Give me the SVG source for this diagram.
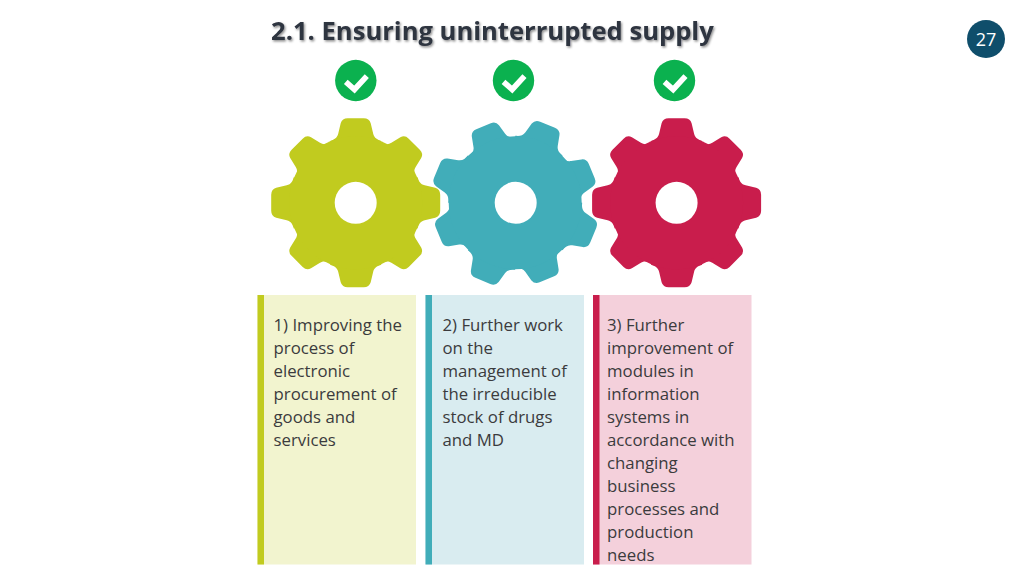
<svg xmlns="http://www.w3.org/2000/svg" width="1024" height="576" viewBox="0 0 1024 576">
<style>
.t{font-family:"Open Sans","Liberation Sans",sans-serif;font-size:16.8px;fill:#3b3b3d}
.title{font-family:"Open Sans","Liberation Sans",sans-serif;font-size:25.6px;font-weight:700;fill:#2e3440}
.ck{fill:#0BB14F}
.tick{fill:none;stroke:#fff;stroke-width:5.6}
.hole{fill:#fff}
</style>
<defs>
<filter id="sh" x="-5%" y="-30%" width="110%" height="170%"><feDropShadow dx="1.2" dy="1.5" stdDeviation="0.9" flood-color="#000" flood-opacity="0.45"/></filter>
<path id="tooth" d="M-25.6,-61.9C-22,-63 -18.500,-64.500 -17.500,-69L-15,-79.500Q-13.500,-84.500 -8,-84.500L8,-84.500Q13.500,-84.500 15,-79.500L17.500,-69C18.500,-64.500 22,-63 25.600,-61.900L0,0Z"/>
<g id="gear">
<use href="#tooth"/><use href="#tooth" transform="rotate(45) scale(.98)"/><use href="#tooth" transform="rotate(90)"/><use href="#tooth" transform="rotate(135) scale(.98)"/><use href="#tooth" transform="rotate(180)"/><use href="#tooth" transform="rotate(225) scale(.98)"/><use href="#tooth" transform="rotate(270)"/><use href="#tooth" transform="rotate(315) scale(.98)"/>
<circle r="66.500"/>
</g>
<g id="check"><circle class="ck" r="20.7"/><path class="tick" d="M-10,1.3L-1.3,9L11,-4.3"/></g>
</defs>
<rect width="1024" height="576" fill="#fff"/>
<g id="title"><text class="title" x="271" y="40" filter="url(#sh)">2.1. Ensuring uninterrupted supply</text></g>
<g id="page"><circle cx="986" cy="39" r="19" fill="#0F4E6B"/><text x="986" y="45.500" text-anchor="middle" font-family="Open Sans, Liberation Sans, sans-serif" font-size="18" fill="#fff">27</text></g>
<g id="check-1"><use href="#check" x="355.800" y="80.500"/></g>
<g id="check-2"><use href="#check" x="513.500" y="80.500"/></g>
<g id="check-3"><use href="#check" x="674.500" y="80.500"/></g>
<g id="gear-1" transform="translate(355.700 202.800)" fill="#C1CB1F"><use href="#gear"/><circle class="hole" r="21"/></g>
<g id="gear-2" transform="translate(515.200 202.800)" fill="#41ADB9"><use href="#gear" transform="rotate(22.5)"/><circle class="hole" r="21" cx="0.500"/></g>
<g id="gear-3" transform="translate(676.600 202.800)" fill="#C91D4C"><use href="#gear"/><circle class="hole" r="21"/></g>
<g id="panel-1"><rect x="257.500" y="295" width="158.500" height="269.500" fill="#F2F4CF"/><rect x="257.500" y="295" width="6.500" height="269.500" fill="#C1CB1F"/>
<text class="t"><tspan x="273.500" y="331">1) Improving the</tspan><tspan x="273.500" y="354">process of</tspan><tspan x="273.500" y="377">electronic</tspan><tspan x="273.500" y="400">procurement of</tspan><tspan x="273.500" y="423">goods and</tspan><tspan x="273.500" y="446">services</tspan></text></g>
<g id="panel-2"><rect x="425.500" y="295" width="158.500" height="269.500" fill="#D9ECF0"/><rect x="425.500" y="295" width="6.500" height="269.500" fill="#41ADB9"/>
<text class="t"><tspan x="442.500" y="331">2) Further work</tspan><tspan x="442.500" y="354">on the</tspan><tspan x="442.500" y="377">management of</tspan><tspan x="442.500" y="400">the irreducible</tspan><tspan x="442.500" y="423">stock of drugs</tspan><tspan x="442.500" y="446">and MD</tspan></text></g>
<g id="panel-3"><rect x="593" y="295" width="158.500" height="269.500" fill="#F4D0DB"/><rect x="593" y="295" width="6.500" height="269.500" fill="#C91D4C"/>
<text class="t"><tspan x="607" y="331">3) Further</tspan><tspan x="607" y="354">improvement of</tspan><tspan x="607" y="377">modules in</tspan><tspan x="607" y="400">information</tspan><tspan x="607" y="423">systems in</tspan><tspan x="607" y="446">accordance with</tspan><tspan x="607" y="469">changing</tspan><tspan x="607" y="492">business</tspan><tspan x="607" y="515">processes and</tspan><tspan x="607" y="538">production</tspan><tspan x="607" y="561">needs</tspan></text></g>
</svg>
